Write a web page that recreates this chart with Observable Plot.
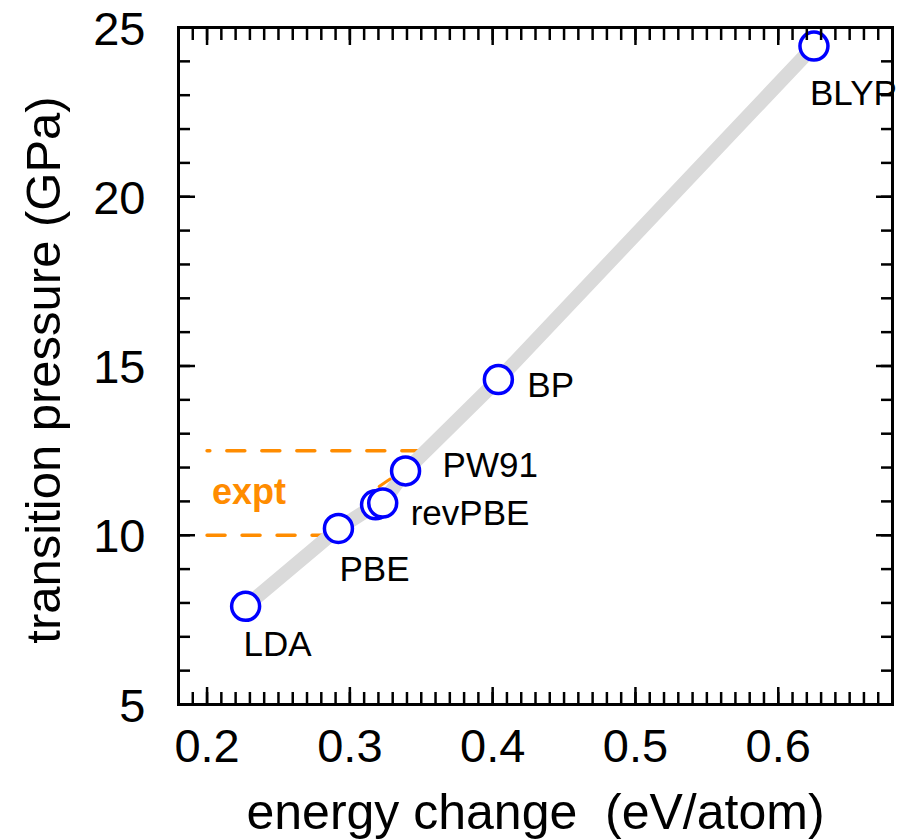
<!DOCTYPE html>
<html>
<head>
<meta charset="utf-8">
<script src="https://cdn.jsdelivr.net/npm/d3@7"></script>
<script src="https://cdn.jsdelivr.net/npm/@observablehq/plot@0.6"></script>
<style>
  body { margin: 0; background: #ffffff; }
  #chart svg { display: block; }
</style>
</head>
<body>
<div id="chart"></div>
<script>
// ---- data ----
const pointLabels = ["LDA", "PBE", "", "revPBE", "PW91", "BP", "BLYP"];
const energyChange = [0.227, 0.292, 0.318, 0.323, 0.339, 0.404, 0.625];      // eV/atom
const transitionPressure = [7.9, 10.2, 10.9, 10.95, 11.9, 14.6, 24.45];     // GPa

const exptPressure = [10, 12.5];             // experimental range (GPa)
const exptLowX = [0.2, 0.286];               // extent of lower expt line
const exptHighX = [0.349, 0.2];              // extent of upper expt line (drawn right to left)
const exptMarkX = [0.3205, 0.3282];          // small orange stroke on the band
const exptMarkY = [11.44, 11.66];

const xTickLabels = [0.2, 0.3, 0.4, 0.5, 0.6];
const yTickLabels = [5, 10, 15, 20, 25];
const xMinorTicks = d3.range(18, 69).map(i => i / 100);
const yMinorTicks = d3.range(5, 26);

// ---- layout (not data) ----
const labelOffset = {
  LDA: [-2, 50], PBE: [1, 53], revPBE: [28, 22], PW91: [37, 6], BP: [29, 17], BLYP: [-4, 59]
};

const points = energyChange.map((e, i) => ({x: e, y: transitionPressure[i], label: pointLabels[i]}));
const lowLine = exptLowX.map(x => ({x, y: exptPressure[0]}));
const highLine = exptHighX.map(x => ({x, y: exptPressure[1]}));
const markLine = exptMarkX.map((x, i) => ({x, y: exptMarkY[i]}));

const orange = "#ff8c00";
const tickW = 2.5;

const marks = [
  Plot.line(lowLine, {x: "x", y: "y", stroke: orange, strokeWidth: 3.5, strokeDasharray: "18,17"}),
  Plot.line(highLine, {x: "x", y: "y", stroke: orange, strokeWidth: 3.5, strokeDasharray: "18,17"}),
  Plot.line(points, {x: "x", y: "y", stroke: "#dadada", strokeWidth: 14, strokeLinejoin: "round"}),
  Plot.line(markLine, {x: "x", y: "y", stroke: orange, strokeWidth: 3}),
  Plot.dot(points, {x: "x", y: "y", r: 14, stroke: "#0000ff", strokeWidth: 3.5, fill: "white"}),
];

for (const p of points) {
  if (!p.label) continue;
  const [dx, dy] = labelOffset[p.label];
  marks.push(Plot.text([p], {x: "x", y: "y", text: "label", textAnchor: "start", lineAnchor: "bottom",
    dx, dy, fontSize: 35, fill: "black"}));
}

marks.push(
  Plot.text([{x: 0.2, y: (exptPressure[0] + exptPressure[1]) / 2}], {
    x: "x", y: "y", text: () => "expt", textAnchor: "start", lineAnchor: "bottom",
    dx: 5, dy: 11, fontSize: 36, fontWeight: "bold", fill: orange
  }),
  Plot.frame({stroke: "black", strokeWidth: 3}),
  // minor ticks, inward on all four sides
  Plot.axisX(xMinorTicks, {anchor: "bottom", tickSize: 12, dy: -12, fill: "none", strokeWidth: tickW, label: null}),
  Plot.axisX(xMinorTicks, {anchor: "top", tickSize: 12, dy: 12, fill: "none", strokeWidth: tickW, label: null}),
  Plot.axisY(yMinorTicks, {anchor: "left", tickSize: 12, dx: 12, fill: "none", strokeWidth: tickW, label: null}),
  Plot.axisY(yMinorTicks, {anchor: "right", tickSize: 12, dx: -12, fill: "none", strokeWidth: tickW, label: null}),
  // major ticks
  Plot.axisX(xTickLabels, {anchor: "bottom", tickSize: 17, dy: -17, fill: "none", strokeWidth: tickW, label: null}),
  Plot.axisX(xTickLabels, {anchor: "top", tickSize: 17, dy: 17, fill: "none", strokeWidth: tickW, label: null}),
  Plot.axisY(yTickLabels, {anchor: "left", tickSize: 17, dx: 17, fill: "none", strokeWidth: tickW, label: null}),
  Plot.axisY(yTickLabels, {anchor: "right", tickSize: 17, dx: -17, fill: "none", strokeWidth: tickW, label: null}),
  // tick labels
  Plot.text(xTickLabels, {x: d => d, frameAnchor: "bottom", lineAnchor: "top", dy: 24,
    text: d => d.toFixed(1), fontSize: 47, fill: "black"}),
  Plot.text(yTickLabels, {y: d => d, frameAnchor: "left", textAnchor: "end", lineAnchor: "middle",
    dx: -33, dy: 2, text: d => String(d), fontSize: 47, fill: "black"}),
  // axis titles
  Plot.text(["energy change\u00a0 (eV/atom)"], {text: d => d, frameAnchor: "bottom", textAnchor: "middle",
    lineAnchor: "bottom", dy: 124, fontSize: 50, fill: "black"}),
  Plot.text(["transition pressure (GPa)"], {text: d => d, frameAnchor: "left", textAnchor: "middle", rotate: -90,
    lineAnchor: "middle", dx: -134, dy: 4, fontSize: 49, fill: "black"})
);

const chart = Plot.plot({
  width: 912,
  height: 840,
  marginLeft: 178,
  marginRight: 20,
  marginTop: 27,
  marginBottom: 136,
  style: {fontFamily: "'Liberation Sans', Arial, sans-serif", background: "white", color: "black", overflow: "visible"},
  x: {domain: [0.18, 0.68]},
  y: {domain: [5, 25]},
  marks
});
document.getElementById("chart").appendChild(chart);
</script>
</body>
</html>
